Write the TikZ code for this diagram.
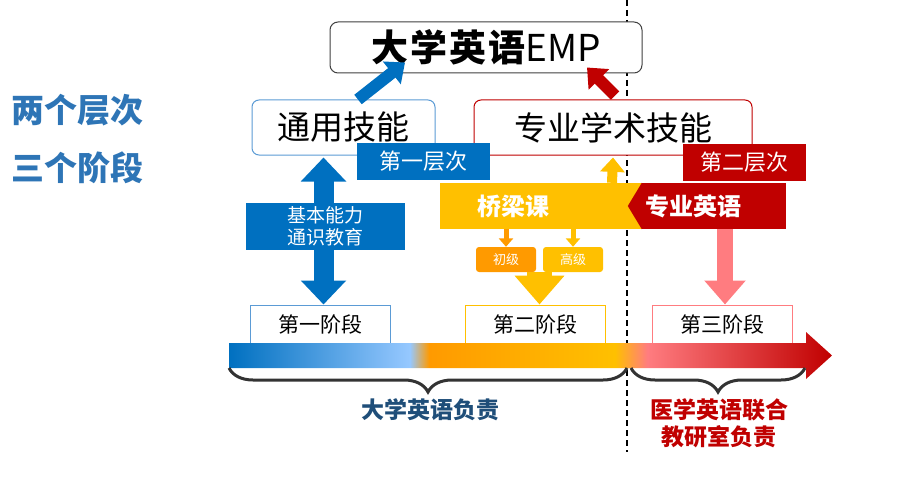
\documentclass[tikz,border=0pt]{standalone}
\usepackage{fontspec}
\setmainfont{Noto Sans CJK SC}
\usepackage{tikz}
\usetikzlibrary{positioning,arrows.meta,decorations.pathreplacing}
\definecolor{empblue}{HTML}{0070C0}
\definecolor{empsky}{HTML}{5B9BD5}
\definecolor{empred}{HTML}{C00000}
\definecolor{empgold}{HTML}{FFC000}
\definecolor{emporange}{HTML}{FF9A00}
\definecolor{emppink}{HTML}{FF7C80}
\definecolor{empnavy}{HTML}{1F4E79}
\definecolor{emplabel}{HTML}{2E75B6}
\definecolor{emplight}{RGB}{150,200,255}
\pgfdeclarehorizontalshading{timeline}{100bp}{color(0bp)=(empblue); color(25bp)=(empblue);
  color(40bp)=(emplight); color(41.6bp)=(emporange); color(57bp)=(empgold);
  color(59.7bp)=(emppink); color(75bp)=(empred); color(100bp)=(empred)}
\tikzset{
  toplabel/.style  = {text=emplabel, font=\fontsize{33}{36}\selectfont\bfseries},
  titlebox/.style  = {draw=black!75, rounded corners=8pt, fill=white, line width=1pt,
                      minimum width=312pt, minimum height=51pt,
                      font=\fontsize{37}{40}\selectfont},
  skillbox/.style  = {draw, rounded corners=7pt, fill=white, line width=1pt,
                      minimum height=55pt, font=\fontsize{33}{36}\selectfont},
  tagbox/.style    = {text=white, minimum height=37pt, font=\fontsize{22}{26}\selectfont},
  bandbox/.style   = {minimum height=46pt, inner sep=0pt},
  bandtext/.style  = {text=white, inner sep=0pt, font=\fontsize{24}{27}\selectfont\bfseries},
  levelbox/.style  = {rounded corners=3pt, text=white, minimum width=60pt,
                      minimum height=25pt, font=\fontsize{13}{15}\selectfont},
  stagebox/.style  = {draw, fill=white, line width=1pt, minimum width=140pt,
                      minimum height=38pt, font=\fontsize{21}{24}\selectfont},
  owner/.style     = {align=center, font=\fontsize{23}{27}\selectfont\bfseries},
  blockarrow/.style 2 args = {line width=#1, -{Triangle[width=#2,length=0.6*#2]}}
}

\begin{document}
\begin{tikzpicture}[x=1pt, y=-1pt, node distance=4pt]
  \useasboundingbox (0,0) rectangle (907,500);
  % dividing line
  \coordinate (divtop) at (627,0);
  \coordinate (divbot) at (627,452);
  \draw [dashed, dash pattern=on 6pt off 4pt, line width=1.2pt] (divtop) -- (divbot);

  \node [toplabel] (levels) at (77,110) {两个层次};
  \node [toplabel] (stages) at (77,168) {三个阶段};

  \node [titlebox] (title) at (486,47.5) {\textbf{大\kern2pt 学\kern2pt 英\kern2pt 语}EMP};
  \node [skillbox, draw=empsky, minimum width=183pt] (general) at (343.5,127.5) {通用技能};
  \node [skillbox, draw=empred, minimum width=278pt] (academic) at (613,127.5) {专业学术技能};

  \draw [empblue, blockarrow={12pt}{28pt}]
    ([xshift=14.5pt]general.north) -- ([xshift=-81pt,yshift=11pt]title.south);
  \draw [empred, blockarrow={12pt}{28pt}]
    ([xshift=2pt,yshift=4pt]academic.north) -- ([xshift=101pt,yshift=6pt]title.south);

  \node [tagbox, fill=empblue, minimum width=133pt] (tier1) at (423.5,161.5) {第一层次};
  \node [tagbox, fill=empred, minimum width=123pt] (tier2) at (744.5,162) {第二层次};

  % stages
  \node [stagebox, draw=empsky] (stage1) at (320.5,324) {第一阶段};
  \node [stagebox, draw=empgold] (stage2) at (535,324) {第二阶段};
  \node [stagebox, draw=emppink] (stage3) at (722,324) {第三阶段};

  % first stage
  \draw [empblue, line width=20pt, {Triangle[width=44pt,length=24pt]}-{Triangle[width=44pt,length=24pt]}]
    ([xshift=-20pt,yshift=-2pt]general.south) -- ([xshift=3pt]stage1.north);
  \node [tagbox, fill=empblue, minimum width=159pt, minimum height=43pt, align=center,
         font=\fontsize{19}{22}\selectfont] (basic) at (325.5,226.5) {基本能力\\通识教育};

  % second stage
  \node [bandbox, fill=empgold, minimum width=205pt] (bridge) at (542.5,206) {};
  \node [bandtext, right=37pt of bridge.west] (bridgetext) {桥梁课};
  \draw [empgold, blockarrow={10pt}{24pt}]
    ([xshift=69.5pt]bridge.north) -- ([yshift=-2pt]academic.south);
  \node [levelbox, fill=emporange] (novice) at (506,259.5) {初级};
  \node [levelbox, fill=empgold] (advanced) at (573,259.5) {高级};
  \draw [emporange, blockarrow={5pt}{14pt}] (novice.north |- bridge.south) -- (novice.north);
  \draw [empgold, blockarrow={5pt}{14pt}] (advanced.north |- bridge.south) -- (advanced.north);
  \draw [empgold, blockarrow={25pt}{48pt}]
    ([xshift=4.5pt]stage2.north |- novice.south) -- ([xshift=4.5pt]stage2.north);

  % third stage
  \node [bandbox, fill=empred, minimum width=144pt] (eng) at (714,206) {};
  \fill [empred] (eng.north west) -- ([xshift=-14pt]eng.west) -- (eng.south west) -- cycle;
  \node [bandtext, right=3pt of eng.west] (engtext) {专业英语};
  \draw [emppink, blockarrow={16pt}{40pt}]
    ([xshift=3pt]stage3.north |- eng.south) -- ([xshift=3pt]stage3.north);

  % time line
  \shade [shading=timeline] (229,343) -- (806,343) -- (806,332) -- (832,355.5)
    -- (806,379) -- (806,368) -- (229,368) -- cycle;
  \coordinate (uleft) at (229,368);
  \coordinate (umid) at (627,368);
  \coordinate (mmid) at (631,368);
  \coordinate (mright) at (805,368);
  \draw [decorate, decoration={brace, mirror, amplitude=24pt}, line width=3pt, black!80]
    (uleft) -- (umid);
  \draw [decorate, decoration={brace, mirror, amplitude=24pt}, line width=3pt, black!80]
    (mmid) -- (mright);
  \node [owner, text=empnavy] (univ) at (430,410) {大学英语负责};
  \node [owner, text=empred] (med) at (719,423) {医学英语联合\\教研室负责};
\end{tikzpicture}
\end{document}
